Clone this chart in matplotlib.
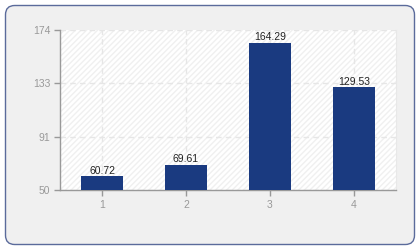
import matplotlib
matplotlib.use("Agg")
import matplotlib.pyplot as plt
from matplotlib.patches import FancyBboxPatch, Rectangle

plt.rcParams["font.family"] = ["Liberation Sans", "DejaVu Sans"]

categories = ["1", "2", "3", "4"]
values = [60.72, 69.61, 164.29, 129.53]
ymin, ymax = 50, 174
yticks = [50, 50 + 124 / 3, 50 + 248 / 3, 174]
ytick_labels = ["50", "91", "133", "174"]

fig = plt.figure(figsize=(4.2, 2.5), dpi=100)
fig.patch.set_facecolor("white")
box = FancyBboxPatch((5.5 / 420, 5.5 / 250), 409 / 420, 239 / 250,
                     boxstyle="round,pad=0,rounding_size=0.022",
                     mutation_aspect=420 / 250,
                     transform=fig.transFigure, facecolor="#f0f0f0",
                     edgecolor="#5b6b9b", linewidth=1.0, zorder=-10)
fig.patches.append(box)

ax = fig.add_axes([60 / 420, 1 - 190 / 250, 336 / 420, 160 / 250])
ax.set_zorder(1)
ax.set_facecolor("white")
ax.add_patch(Rectangle((0, 0), 1, 1, transform=ax.transAxes, facecolor="white",
                       edgecolor="#f0f0f0", hatch="//////", linewidth=0, zorder=0))
x = list(range(1, len(categories) + 1))
ax.bar(x, [v - ymin for v in values], bottom=ymin, width=0.49, color="#1a3a80", zorder=3)
for xi, v in zip(x, values):
    ax.text(xi, v + 0.3, f"{v:.2f}", ha="center", va="bottom", fontsize=7.5, color="#222222", zorder=4)

ax.set_xlim(0.5, 4.5)
ax.set_ylim(ymin, ymax)
ax.set_xticks(x)
ax.set_xticklabels(categories)
ax.set_yticks(yticks)
ax.set_yticklabels(ytick_labels)
ax.grid(True, linestyle=(0, (4, 3)), color="#e6e6e6", linewidth=1.0, zorder=1)
ax.set_axisbelow(True)
ax.spines["top"].set_visible(False)
ax.spines["right"].set_color("#e8e8e8")
for s in ["left", "bottom"]:
    ax.spines[s].set_color("#999999")
    ax.spines[s].set_linewidth(1.0)
ax.tick_params(axis="both", colors="#999999", labelsize=7.5, length=4, width=1, pad=3)
ax.tick_params(axis="both", labelcolor="#999999")

fig.savefig("out.png", dpi=100)
